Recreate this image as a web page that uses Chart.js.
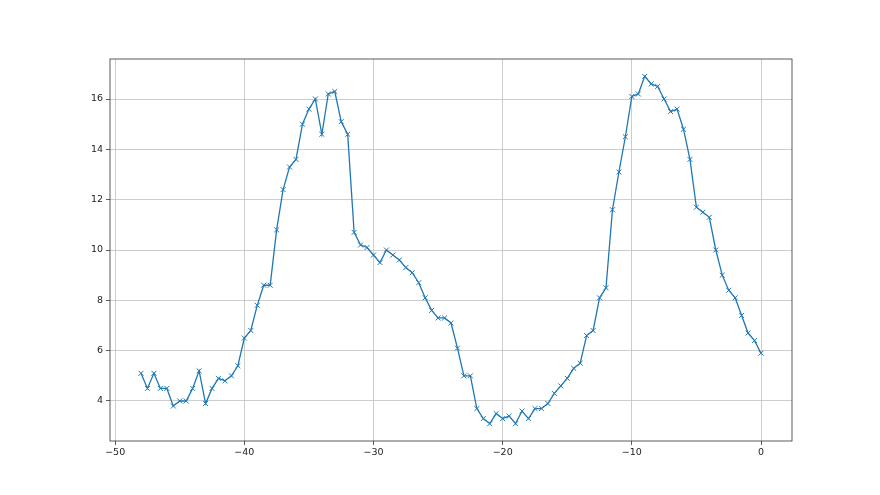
<!DOCTYPE html>
<html>
<head>
<meta charset="utf-8">
<script src="https://cdn.jsdelivr.net/npm/chart.js@4/dist/chart.umd.min.js"></script>
<style>
  html, body { margin: 0; padding: 0; background: #fff; }
  #wrap { width: 880px; height: 495px; }
</style>
</head>
<body>
<div id="wrap"><canvas id="grafica" width="880" height="495"></canvas></div>
<script>
// x positions, one every half step from -48 to 0
const xValues = [
  -48, -47.5, -47, -46.5, -46, -45.5, -45, -44.5, -44, -43.5,
  -43, -42.5, -42, -41.5, -41, -40.5, -40, -39.5, -39, -38.5,
  -38, -37.5, -37, -36.5, -36, -35.5, -35, -34.5, -34, -33.5,
  -33, -32.5, -32, -31.5, -31, -30.5, -30, -29.5, -29, -28.5,
  -28, -27.5, -27, -26.5, -26, -25.5, -25, -24.5, -24, -23.5,
  -23, -22.5, -22, -21.5, -21, -20.5, -20, -19.5, -19, -18.5,
  -18, -17.5, -17, -16.5, -16, -15.5, -15, -14.5, -14, -13.5,
  -13, -12.5, -12, -11.5, -11, -10.5, -10, -9.5, -9, -8.5,
  -8, -7.5, -7, -6.5, -6, -5.5, -5, -4.5, -4, -3.5,
  -3, -2.5, -2, -1.5, -1, -0.5, 0
];
const yValues = [
  5.1, 4.5, 5.1, 4.5, 4.5, 3.8, 4.0, 4.0, 4.5, 5.2,
  3.9, 4.5, 4.9, 4.8, 5.0, 5.4, 6.5, 6.8, 7.8, 8.6,
  8.6, 10.8, 12.4, 13.3, 13.6, 15.0, 15.6, 16.0, 14.6, 16.2,
  16.3, 15.1, 14.6, 10.7, 10.2, 10.1, 9.8, 9.5, 10.0, 9.8,
  9.6, 9.3, 9.1, 8.7, 8.1, 7.6, 7.3, 7.3, 7.1, 6.1,
  5.0, 5.0, 3.7, 3.3, 3.1, 3.5, 3.3, 3.4, 3.1, 3.6,
  3.3, 3.7, 3.7, 3.9, 4.3, 4.6, 4.9, 5.3, 5.5, 6.6,
  6.8, 8.1, 8.5, 11.6, 13.1, 14.5, 16.1, 16.2, 16.9, 16.6,
  16.5, 16.0, 15.5, 15.6, 14.8, 13.6, 11.7, 11.5, 11.3, 10.0,
  9.0, 8.4, 8.1, 7.4, 6.7, 6.4, 5.9
];
const xTicks = [-50, -40, -30, -20, -10, 0];
const yTicks = [4, 6, 8, 10, 12, 14, 16];

const puntos = xValues.map((x, i) => ({ x: x, y: yValues[i] }));

// limites con el margen de 5% como en matplotlib
const xMin = -50.4, xMax = 2.4;
const yMin = 2.41, yMax = 17.59;

function menos(v) {
  return v < 0 ? '\u2212' + Math.abs(v) : String(v);
}

// marco completo del area de dibujo
const marco = {
  id: 'marco',
  afterDraw(chart) {
    const a = chart.chartArea;
    const ctx = chart.ctx;
    ctx.save();
    ctx.strokeStyle = '#333';
    ctx.lineWidth = 0.8;
    ctx.strokeRect(a.left, a.top, a.right - a.left, a.bottom - a.top);
    ctx.restore();
  }
};

const ctx = document.getElementById('grafica').getContext('2d');
new Chart(ctx, {
  type: 'line',
  data: {
    datasets: [{
      data: puntos,
      borderColor: '#1f77b4',
      backgroundColor: '#1f77b4',
      borderWidth: 1.3,
      pointStyle: 'crossRot',
      pointRadius: 3.5,
      pointBorderWidth: 1,
      pointBorderColor: '#1f77b4',
      tension: 0,
      fill: false
    }]
  },
  options: {
    responsive: false,
    animation: false,
    layout: { padding: { left: 0, top: 59, right: 88, bottom: 0 } },
    plugins: {
      legend: { display: false },
      tooltip: { enabled: false }
    },
    scales: {
      x: {
        type: 'linear',
        min: xMin,
        max: xMax,
        afterBuildTicks: s => { s.ticks = xTicks.map(v => ({ value: v })); },
        afterFit: s => { s.height = 54; },
        grid: {
          color: '#c0c0c0',
          lineWidth: 0.8,
          tickColor: '#333',
          tickLength: 4,
          drawTicks: true
        },
        border: { display: false },
        ticks: {
          color: '#222',
          font: { family: 'DejaVu Sans', size: 9.5 },
          padding: 2,
          maxRotation: 0,
          callback: v => menos(v)
        }
      },
      y: {
        type: 'linear',
        min: yMin,
        max: yMax,
        afterBuildTicks: s => { s.ticks = yTicks.map(v => ({ value: v })); },
        afterFit: s => { s.width = 110; },
        grid: {
          color: '#c0c0c0',
          lineWidth: 0.8,
          tickColor: '#333',
          tickLength: 4,
          drawTicks: true
        },
        border: { display: false },
        ticks: {
          color: '#222',
          font: { family: 'DejaVu Sans', size: 9.5 },
          padding: 3,
          callback: v => menos(v)
        }
      }
    }
  },
  plugins: [marco]
});
</script>
</body>
</html>
